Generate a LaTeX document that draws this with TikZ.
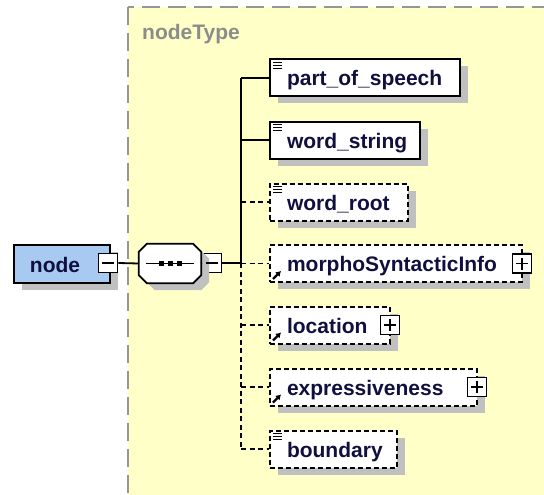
\documentclass[tikz,border=0pt]{standalone}
\usepackage{fontspec}
\setmainfont{Liberation Sans}
\usetikzlibrary{shadows,arrows.meta,calc}
\definecolor{typefill}{RGB}{255,255,200}
\definecolor{typeedge}{RGB}{150,150,150}
\definecolor{typetext}{RGB}{140,140,140}
\definecolor{elemtext}{RGB}{16,16,64}
\definecolor{rootfill}{RGB}{168,202,240}
\definecolor{shade}{RGB}{192,192,192}
\begin{document}
\begin{tikzpicture}[x=1pt,y=-1pt,
  font=\fontsize{21}{24}\selectfont\bfseries,
  shadowed/.style={drop shadow={shadow xshift=8pt,shadow yshift=-7pt,fill=shade,opacity=1}},
  elem/.style={draw, fill=white, line width=2pt, shadowed, text=elemtext,
    anchor=west, inner xsep=17pt, inner ysep=0pt, minimum height=37pt,
    text height=18pt, text depth=2pt, align=left, text width=#1,
    execute at begin node={\hyphenpenalty=10000\exhyphenpenalty=10000 }},
  optional/.style={dash pattern=on 5pt off 3pt},
  toggle/.style={draw, fill=white, line width=1.6pt, minimum size=19pt, inner sep=0pt},
  link/.style={line width=1.8pt},
  optlink/.style={link, dash pattern=on 5pt off 3.5pt},
  docicon/.style={line width=1.3pt},
  refarrow/.style={line width=2.2pt, -{Latex[length=5pt,width=6.5pt]}}]
\useasboundingbox (0,0) rectangle (544,495);

% complex type frame
\draw[fill=typefill, draw=typeedge, line width=1.4pt, dash pattern=on 18pt off 8pt]
  (128,7) rectangle (570,530);
\node[text=typetext, anchor=base west, inner sep=0pt] (tname) at (142,40) {nodeType};

% root element
\node[draw, fill=rootfill, line width=2pt, shadowed, text=elemtext, anchor=west,
  inner xsep=16pt, inner ysep=0pt, minimum height=38pt, text height=18pt, text depth=2pt,
  align=left, text width=64pt] (root) at (13,264) {node};
\node[toggle] (rootm) at (108,263) {};
\draw[line width=1.5pt] ($(rootm.center)+(-6,0)$) -- ($(rootm.center)+(6,0)$);

% sequence compositor
\node[minimum width=62pt, minimum height=39pt, inner sep=0pt] (seq) at (170,263.5) {};
\node[toggle] (seqm) at (212,263) {};
\draw[link] (rootm.east) -- (seq.west);
\draw[fill=white, line width=1.8pt, shadowed]
  ($(seq.north west)+(8,0)$) -- ($(seq.north east)+(-8,0)$) -- ($(seq.north east)+(0,8)$)
  -- ($(seq.south east)+(0,-8)$) -- ($(seq.south east)+(-8,0)$) -- ($(seq.south west)+(8,0)$)
  -- ($(seq.south west)+(0,-8)$) -- ($(seq.north west)+(0,8)$) -- cycle;
\draw[line width=1.5pt] ($(seq.west)+(7,0)$) -- ($(seq.east)+(-7,0)$);
\foreach \dx in {-9,0,9}
  \fill ($(seq.center)+(\dx,0)+(-2.5,-2.5)$) rectangle ++(5,5);
\draw[line width=1.5pt] ($(seqm.center)+(-6,0)$) -- ($(seqm.center)+(6,0)$);

% child elements
\node[elem=156pt] (ps) at (269,78) {part\_of\_speech};
\node[elem=116pt] (ws) at (269,140) {word\_string};
\node[elem=104pt, optional] (wr) at (269,202) {word\_root};
\node[elem=218pt, optional] (msi) at (269,263.5) {morphoSyntacticInfo};
\node[elem=86pt, optional] (loc) at (269,325) {location};
\node[elem=173pt, optional] (expr) at (269,387) {expressiveness};
\node[elem=93pt, optional] (bnd) at (269,449) {boundary};

% connectors
\coordinate (j) at (241,263);
\draw[link] (seq.east) -- (seqm.west);
\draw[link] (seqm.east) -- (j);
\draw[link] (j |- ps.west) -- (j);
\draw[optlink] (j) -- (j |- bnd.west);
\draw[link] (j |- ps.west) -- (ps.west);
\draw[link] (j |- ws.west) -- (ws.west);
\foreach \n in {wr,msi,loc,expr,bnd}
  \draw[optlink] (j |- \n.west) -- (\n.west);

% simple-content icons
\foreach \n in {ps,ws,wr,bnd}
  \foreach \k in {4,7,10}
    \draw[docicon] ($(\n.north west)+(4,\k)$) -- ++(9,0);

% reference icons
\foreach \n in {msi,loc,expr}
  \draw[refarrow] ($(\n.south west)+(4,-4)$) -- ++(8,-8);

% expand toggles
\foreach \n in {msi,loc,expr} {
  \node[toggle] (\n p) at ($(\n.east)+(-1,0)$) {};
  \draw[line width=1.5pt] ($(\n p.center)+(-6,0)$) -- ($(\n p.center)+(6,0)$);
  \draw[line width=1.5pt] ($(\n p.center)+(0,-6)$) -- ($(\n p.center)+(0,6)$);
}
\end{tikzpicture}
\end{document}
